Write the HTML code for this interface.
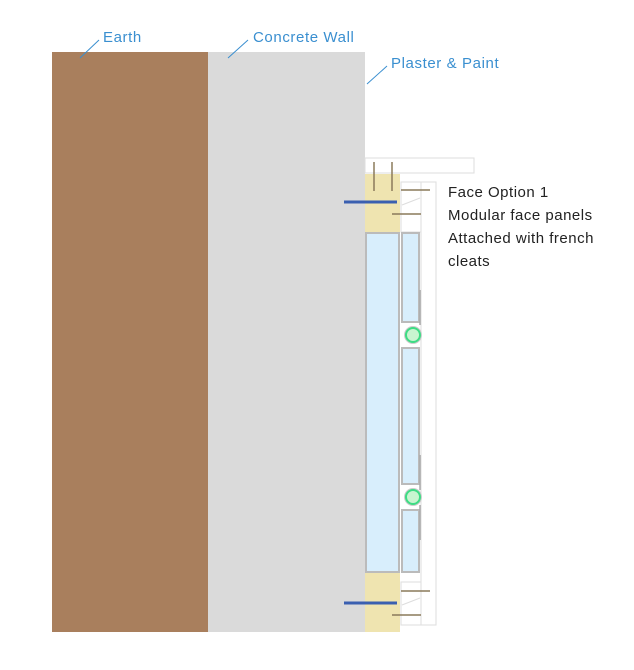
<!DOCTYPE html>
<html><head><style>body{margin:0;background:#fff}svg{display:block}</style></head><body>
<svg width="634" height="670" xmlns="http://www.w3.org/2000/svg" font-family="Liberation Sans, sans-serif">
<rect x="52" y="52" width="156" height="580" fill="#a97f5d"/>
<rect x="208" y="52" width="157" height="580" fill="#dadada"/>
<rect x="365" y="158" width="109" height="15" fill="#fff" stroke="#ddd"/>
<rect x="365" y="174" width="35" height="58" fill="#efe4b0"/>
<rect x="365" y="573" width="35" height="59" fill="#efe4b0"/>
<rect x="421" y="182" width="15" height="443" fill="#fff" stroke="#ddd"/>
<rect x="401" y="182" width="20" height="50" fill="#fff" stroke="#ddd"/>
<rect x="401" y="582" width="20" height="43" fill="#fff" stroke="#ddd"/>
<line x1="402" y1="205" x2="420" y2="198" stroke="#ddd"/>
<line x1="402" y1="605" x2="420" y2="598" stroke="#ddd"/>
<rect x="366" y="233" width="33" height="339" fill="#d8eefc" stroke="#bbb" stroke-width="2"/>
<rect x="402" y="233" width="17" height="89" fill="#d8eefc" stroke="#bbb" stroke-width="2"/>
<rect x="402" y="348" width="17" height="136" fill="#d8eefc" stroke="#bbb" stroke-width="2"/>
<rect x="402" y="510" width="17" height="62" fill="#d8eefc" stroke="#bbb" stroke-width="2"/>
<line x1="420" y1="290" x2="420" y2="325" stroke="#aaa" stroke-width="1.5"/>
<line x1="420" y1="455" x2="420" y2="490" stroke="#aaa" stroke-width="1.5"/>
<line x1="420" y1="505" x2="420" y2="540" stroke="#aaa" stroke-width="1.5"/>
<circle cx="413" cy="335" r="9" fill="#ccc"/>
<circle cx="413" cy="497" r="9" fill="#ccc"/>
<circle cx="413" cy="335" r="7" fill="#c8f5d0" stroke="#3ddc84" stroke-width="2"/>
<circle cx="413" cy="497" r="7" fill="#c8f5d0" stroke="#3ddc84" stroke-width="2"/>
<g stroke="#8a7a5a" stroke-width="1.5">
<line x1="374" y1="162" x2="374" y2="191"/><line x1="392" y1="162" x2="392" y2="191"/>
<line x1="401" y1="190" x2="430" y2="190"/><line x1="392" y1="214" x2="421" y2="214"/>
<line x1="401" y1="591" x2="430" y2="591"/><line x1="392" y1="615" x2="421" y2="615"/>
</g>
<g stroke="#3a5fb0" stroke-width="3">
<line x1="344" y1="202" x2="397" y2="202"/><line x1="344" y1="603" x2="397" y2="603"/>
</g>
<g stroke="#3a8fd0" stroke-width="1" fill="none">
<line x1="80" y1="58" x2="99" y2="40"/><line x1="228" y1="58" x2="248" y2="40"/><line x1="367" y1="84" x2="387" y2="66"/>
</g>
<g fill="#3a8fd0" font-size="15" letter-spacing="0.6">
<text x="103" y="42">Earth</text><text x="253" y="42">Concrete Wall</text><text x="391" y="68">Plaster &amp; Paint</text>
</g>
<g fill="#222" font-size="15" letter-spacing="0.5">
<text x="448" y="197">Face Option 1</text><text x="448" y="220">Modular face panels</text>
<text x="448" y="243">Attached with french</text><text x="448" y="266">cleats</text>
</g>
</svg>
</body></html>
